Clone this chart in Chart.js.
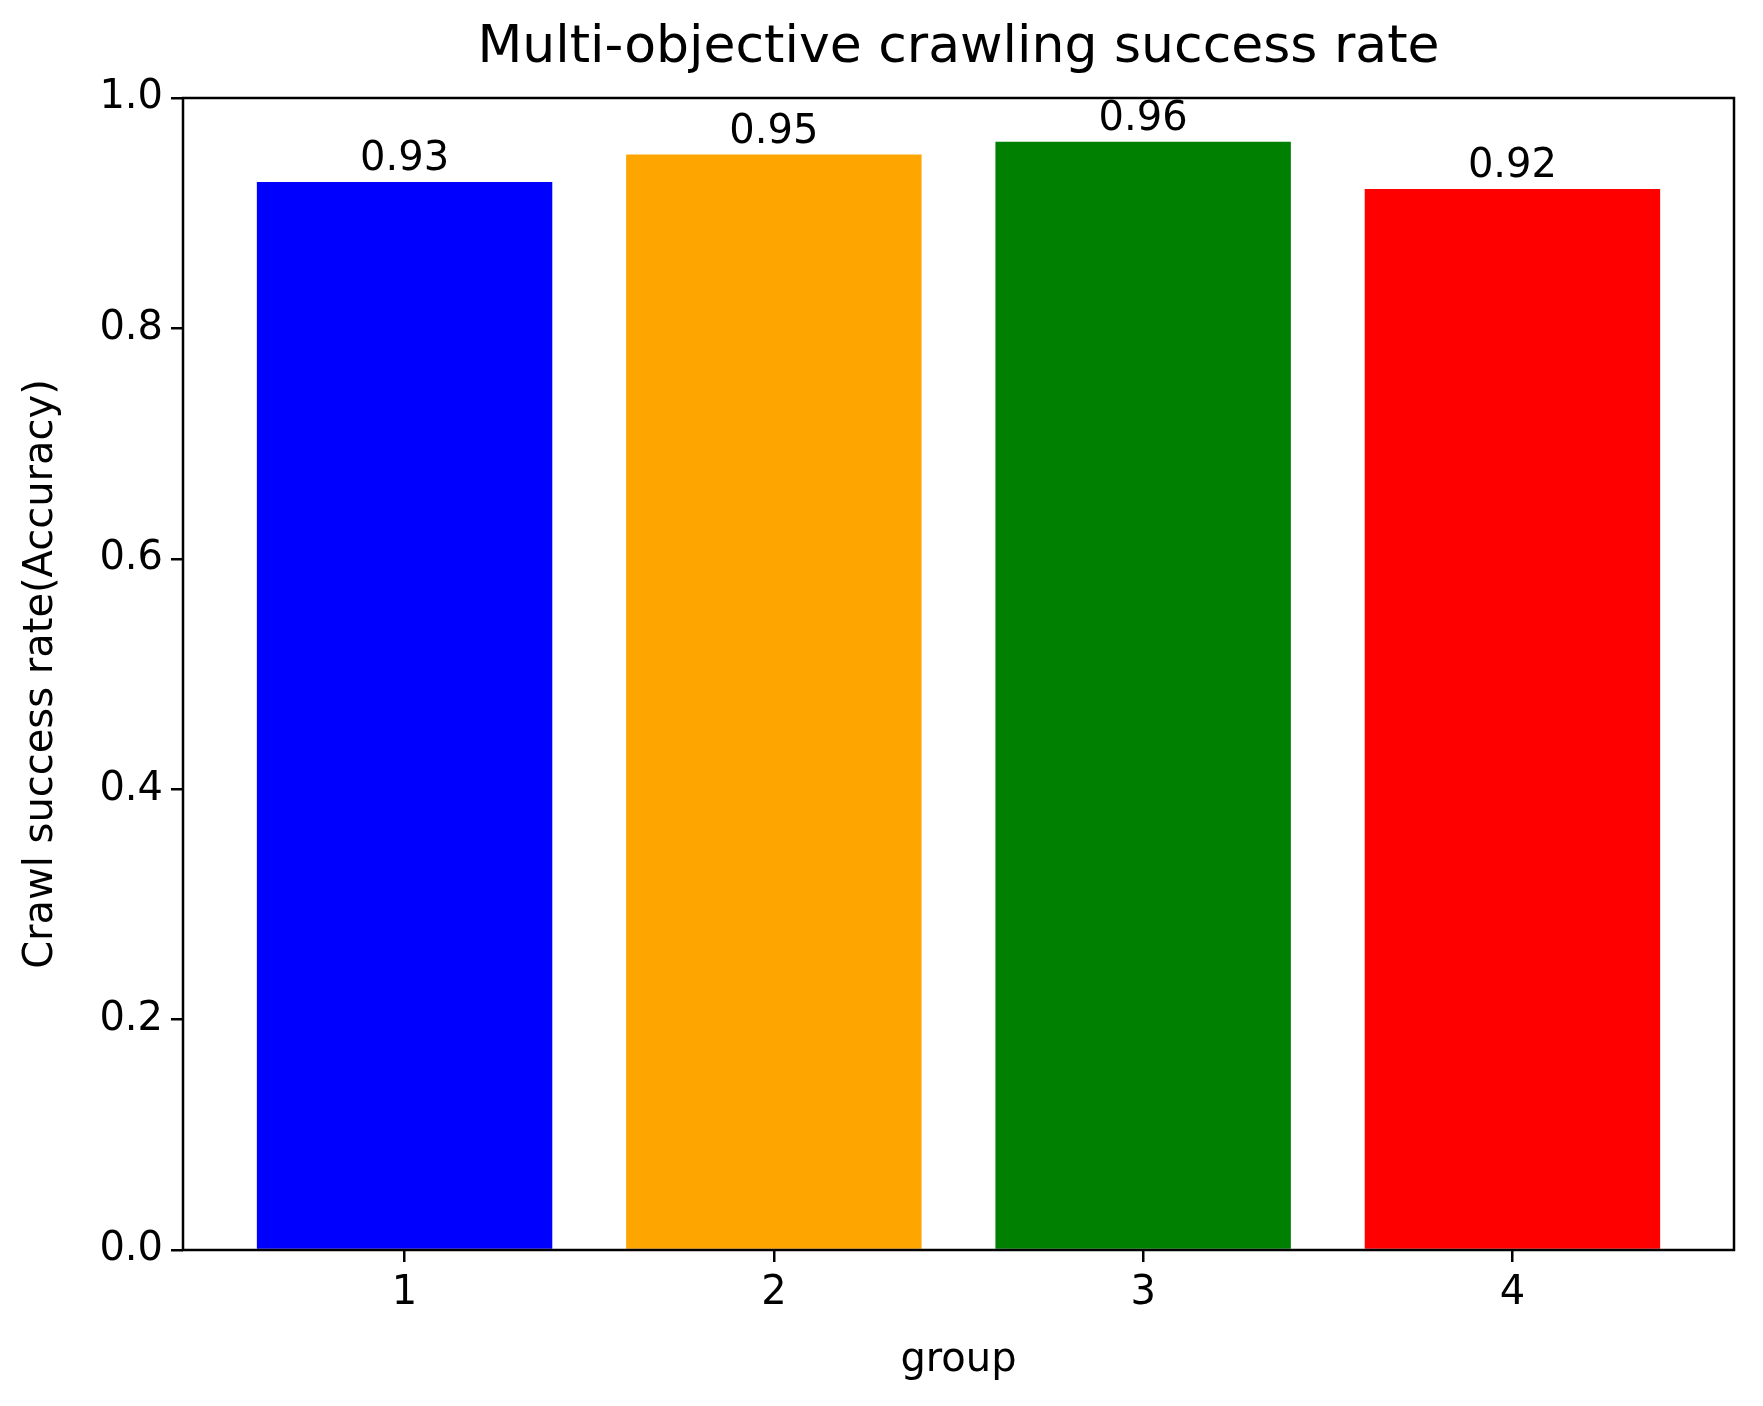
<!DOCTYPE html>
<html>
<head>
<meta charset="utf-8">
<script src="https://cdn.jsdelivr.net/npm/chart.js@4"></script>
<style>
  html, body { margin: 0; padding: 0; background: #fff; }
  #wrap { width: 1763px; height: 1406px; }
</style>
</head>
<body>
<div id="wrap"><canvas id="c"></canvas></div>
<script>
// data
const groups = [1, 2, 3, 4];
const successRate = [0.927, 0.951, 0.962, 0.921];
const valueLabels = ['0.93', '0.95', '0.96', '0.92'];
const barColors = ['#0000ff', '#ffa500', '#008000', '#ff0000'];
const yTicks = [0, 0.2, 0.4, 0.6, 0.8, 1.0];

const FONT = '"DejaVu Sans", sans-serif';

// title, axis titles, value labels and the box around the plot
const decorations = {
    id: 'decorations',
    afterDraw(chart) {
        const ctx = chart.ctx;
        const a = chart.chartArea;
        ctx.save();
        ctx.strokeStyle = '#000';
        ctx.lineWidth = 2.5;
        ctx.strokeRect(a.left, a.top, a.right - a.left, a.bottom - a.top);

        ctx.fillStyle = '#000';
        ctx.textAlign = 'center';
        ctx.textBaseline = 'middle';
        ctx.font = '52px ' + FONT;
        ctx.fillText('Multi-objective crawling success rate', (a.left + a.right) / 2, 48);

        ctx.font = '40px ' + FONT;
        ctx.fillText('group', (a.left + a.right) / 2, 1361);

        ctx.save();
        ctx.translate(42, (a.top + a.bottom) / 2);
        ctx.rotate(-Math.PI / 2);
        ctx.fillText('Crawl success rate(Accuracy)', 0, 0);
        ctx.restore();

        ctx.textBaseline = 'bottom';
        const meta = chart.getDatasetMeta(0);
        meta.data.forEach((bar, i) => {
            ctx.fillText(valueLabels[i], bar.x, bar.y - 2);
        });
        ctx.restore();
    }
};

new Chart(document.getElementById('c'), {
    type: 'bar',
    data: {
        datasets: [{
            data: groups.map((g, i) => ({ x: g, y: successRate[i] })),
            backgroundColor: barColors,
            borderWidth: 0,
            barPercentage: 0.8,
            categoryPercentage: 1.0
        }]
    },
    options: {
        responsive: true,
        maintainAspectRatio: false,
        animation: false,
        devicePixelRatio: 1,
        layout: { padding: { top: 98, right: 29, left: 0, bottom: 0 } },
        plugins: { legend: { display: false }, tooltip: { enabled: false } },
        scales: {
            x: {
                type: 'linear',
                offset: false,
                min: 0.4,
                max: 4.6,
                afterBuildTicks: s => { s.ticks = groups.map(v => ({ value: v })); },
                afterFit: s => { s.height = 156; },
                grid: { offset: false, drawOnChartArea: false, drawTicks: true, tickLength: 12, color: '#000', lineWidth: 2.5 },
                border: { display: false },
                ticks: { color: '#000', font: { family: FONT, size: 40 }, padding: 8 }
            },
            y: {
                min: 0,
                max: 1,
                afterBuildTicks: s => { s.ticks = yTicks.map(v => ({ value: v })); },
                afterFit: s => { s.width = 183; },
                grid: { drawOnChartArea: false, drawTicks: true, tickLength: 12, color: '#000', lineWidth: 2.5 },
                border: { display: false },
                ticks: {
                    color: '#000',
                    font: { family: FONT, size: 40 },
                    padding: 8,
                    callback: v => v.toFixed(1)
                }
            }
        }
    },
    plugins: [decorations]
});
</script>
</body>
</html>
